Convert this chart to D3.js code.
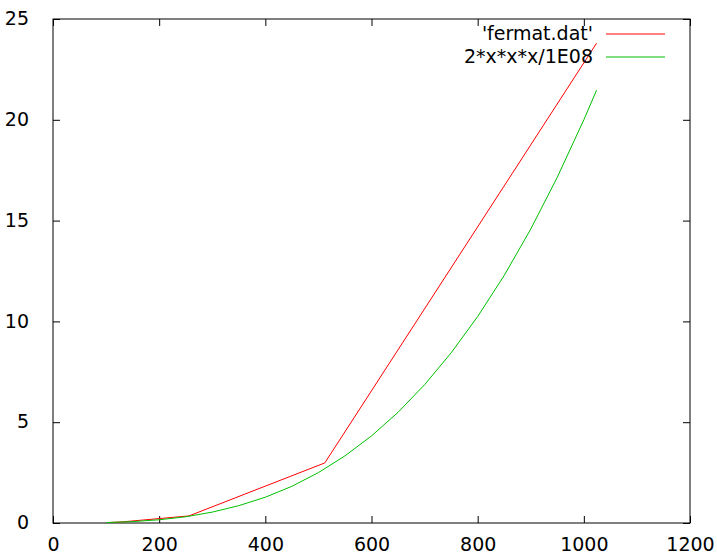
<!DOCTYPE html>
<html>
<head>
<meta charset="utf-8">
<script src="https://cdn.jsdelivr.net/npm/d3@7"></script>
<style>
  body { margin: 0; background: #fff; }
  text { font-family: "DejaVu Sans", sans-serif; font-size: 19px; fill: #000; }
</style>
</head>
<body>
<script>
// fermat.dat points
const fermatX = [100, 128, 256, 512, 1024];
const fermatY = [0.02, 0.05, 0.35, 2.98, 23.8];

// 2*x*x*x/1E08 curve
const curveX = [100, 150, 200, 250, 300, 350, 400, 450, 500, 550, 600, 650, 700, 750, 800, 850, 900, 950, 1000, 1024];
const curveY = [0.02, 0.07, 0.16, 0.31, 0.54, 0.86, 1.28, 1.82, 2.5, 3.33, 4.32, 5.49, 6.86, 8.44, 10.24, 12.28, 14.58, 17.15, 20.0, 21.47];

const xTicks = [0, 200, 400, 600, 800, 1000, 1200];
const yTicks = [0, 5, 10, 15, 20, 25];

const seriesNames = ["'fermat.dat'", "2*x*x*x/1E08"];
const seriesColors = ["#ff0000", "#00c000"];

const width = 717;
const height = 556;
const plotLeft = 53, plotRight = 690, plotTop = 19, plotBottom = 523;

const xScale = d3.scaleLinear().domain([0, 1200]).range([plotLeft, plotRight]);
const yScale = d3.scaleLinear().domain([0, 25]).range([plotBottom, plotTop]);

const svg = d3.select('body').append('svg')
    .attr("width", width).attr("height", height)
    .style("background-color", "#ffffff");

// inward ticks on all four sides (gnuplot mirror)
const tickLen = 7;
svg.append('g').attr("transform", "translate(0," + plotBottom + ")")
    .call(d3.axisBottom(xScale).tickValues(xTicks).tickFormat(d3.format("d"))
        .tickSizeInner(-tickLen).tickSizeOuter(0).tickPadding(15))
    .call(g => g.select(".domain").remove())
    .call(g => g.selectAll("text").attr("font-size", null).attr("font-family", null).attr("dy", "0.71em"));
svg.append('g').attr("transform", "translate(0," + plotTop + ")")
    .call(d3.axisTop(xScale).tickValues(xTicks).tickSizeInner(-tickLen).tickSizeOuter(0).tickFormat(""))
    .call(g => g.select(".domain").remove());
svg.append('g').attr("transform", "translate(" + plotLeft + ",0)")
    .call(d3.axisLeft(yScale).tickValues(yTicks).tickFormat(d3.format("d"))
        .tickSizeInner(-tickLen).tickSizeOuter(0).tickPadding(24))
    .call(g => g.select(".domain").remove())
    .call(g => g.selectAll("text").attr("font-size", null).attr("font-family", null).attr("dy", "0.3em"));
svg.append('g').attr("transform", "translate(" + plotRight + ",0)")
    .call(d3.axisRight(yScale).tickValues(yTicks).tickSizeInner(-tickLen).tickSizeOuter(0).tickFormat(""))
    .call(g => g.select(".domain").remove());
svg.selectAll(".tick line").attr("stroke", "#000");

svg.append('rect')
    .attr("x", plotLeft).attr("y", plotTop)
    .attr("width", plotRight - plotLeft).attr("height", plotBottom - plotTop)
    .attr("fill", "none").attr("stroke", "#000").attr("stroke-width", 1);

const line = d3.line().x(d => xScale(d[0])).y(d => yScale(d[1]));

const series = [
    d3.zip(fermatX, fermatY),
    d3.zip(curveX, curveY)
];

series.forEach((s, i) => {
    svg.append('path').datum(s)
        .attr("d", line)
        .attr("fill", "none")
        .attr("stroke", seriesColors[i])
        .attr("stroke-width", 1);

    const ly = 34 + i * 23;
    svg.append('text')
        .attr("x", 593).attr("y", ly + 6)
        .attr("text-anchor", "end")
        .text(seriesNames[i]);
    svg.append('line')
        .attr("x1", 606).attr("x2", 665)
        .attr("y1", ly).attr("y2", ly)
        .attr("stroke", seriesColors[i]).attr("stroke-width", 1);
});
</script>
</body>
</html>
